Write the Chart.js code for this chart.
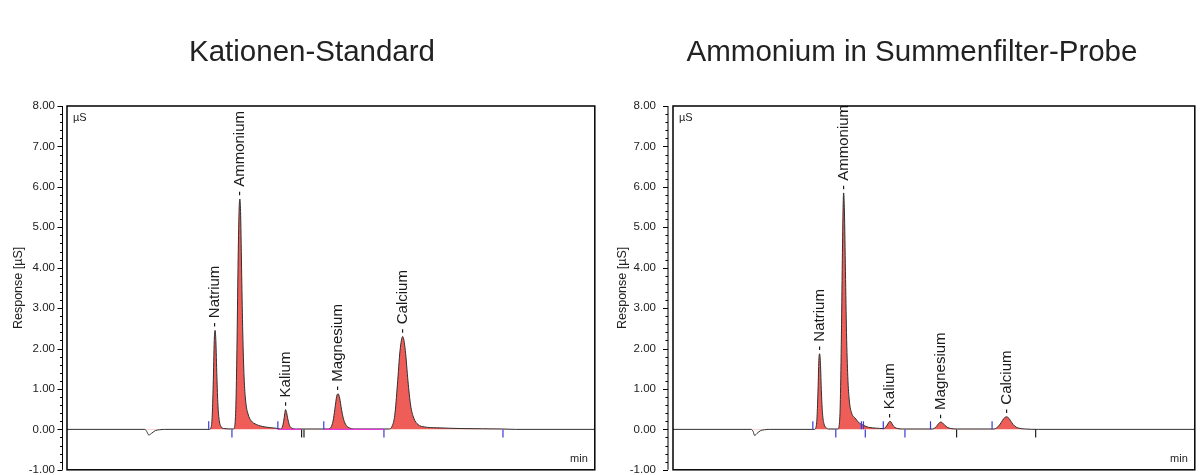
<!DOCTYPE html>
<html>
<head>
<meta charset="utf-8">
<script src="https://cdn.jsdelivr.net/npm/chart.js@4.4.0/dist/chart.umd.min.js"></script>
<style>
html, body { margin: 0; padding: 0; background: #fff; overflow: hidden; }
#wrap { position: relative; width: 1200px; height: 475px; }
.pane { position: absolute; top: 0; width: 600px; height: 475px; }
.title { position: absolute; top: 36px; width: 624px; text-align: center;
  font: 29.5px/30px "Liberation Sans", Arial, sans-serif; color: #222; }
</style>
</head>
<body>
<div id="wrap">
  <div class="pane" style="left:0"><canvas id="stdChart" width="600" height="475"></canvas></div>
  <div class="pane" style="left:600px"><canvas id="probeChart" width="600" height="475"></canvas></div>
  <div class="title" style="left:0">Kationen-Standard</div>
  <div class="title" style="left:600px">Ammonium in Summenfilter-Probe</div>
</div>
<script>
// axes
const timeMin = 0, timeMax = 20;
const respMin = -1, respMax = 8;
const respStep = 1;
const respMinorStep = 0.2;

// Kationen-Standard (min, µS)
const stdTime = [0, 2.95, 3.02, 3.1, 3.2, 3.35, 3.5, 3.7,
  5.40, 5.46, 5.50, 5.54, 5.58, 5.61, 5.64, 5.68, 5.72, 5.77, 5.84, 5.95,
  6.30, 6.36, 6.40, 6.44, 6.48, 6.52, 6.55, 6.58, 6.62, 6.66, 6.71, 6.77, 6.86, 6.97, 7.18, 7.5, 7.9,
  8.1, 8.16, 8.21, 8.25, 8.28, 8.32, 8.37, 8.43, 8.52, 8.7,
  9.9, 10.0, 10.08, 10.15, 10.22, 10.27, 10.33, 10.40, 10.48, 10.58, 10.72, 10.95,
  12.2, 12.32, 12.42, 12.52, 12.62, 12.72, 12.82, 12.92, 13.02, 13.14, 13.3, 13.55, 14.0, 15.0, 16.5, 17, 20];
const stdSignal = [0, 0, -0.05, -0.14, -0.1, -0.03, -0.01, 0,
  0, 0.05, 0.3, 1.1, 2.2, 2.45, 2.2, 1.3, 0.6, 0.22, 0.07, 0.02,
  0.01, 0.1, 0.6, 2.0, 4.0, 5.4, 5.7, 5.3, 3.8, 2.4, 1.3, 0.7, 0.38, 0.22, 0.12, 0.06, 0.03,
  0.01, 0.06, 0.2, 0.38, 0.49, 0.42, 0.25, 0.1, 0.03, 0.01,
  0.01, 0.05, 0.2, 0.5, 0.82, 0.88, 0.78, 0.5, 0.25, 0.1, 0.03, 0.01,
  0.01, 0.08, 0.35, 1.1, 1.95, 2.3, 1.95, 1.2, 0.6, 0.28, 0.12, 0.06, 0.04, 0.02, 0.01, 0, 0];
const stdPeakNames = ["Natrium", "Ammonium", "Kalium", "Magnesium", "Calcium"];
const stdPeakTimes = [5.61, 6.55, 8.28, 10.27, 12.72];
const stdPeakHeights = [2.45, 5.7, 0.49, 0.88, 2.3];
const stdMarkTimes = [5.37, 6.25, 7.99, 9.73, 12.01, 16.52];
const stdMarkSides = [1, -1, 1, 1, -1, -1];
const stdEventTimes = [8.89, 8.98];
const stdBaseFrom = [7.99, 9.73];
const stdBaseTo = [8.89, 12.01];

// Ammonium in Summenfilter-Probe (min, µS)
const probeTime = [0, 3.0, 3.07, 3.13, 3.22, 3.36, 3.5, 3.7,
  5.42, 5.48, 5.52, 5.56, 5.59, 5.62, 5.65, 5.69, 5.73, 5.79, 5.87, 5.98,
  6.32, 6.37, 6.41, 6.45, 6.49, 6.52, 6.54, 6.57, 6.61, 6.65, 6.70, 6.76, 6.85, 6.98, 7.15, 7.3, 7.5, 7.8,
  8.05, 8.15, 8.23, 8.29, 8.32, 8.36, 8.42, 8.50, 8.62, 8.8,
  9.95, 10.05, 10.14, 10.22, 10.27, 10.33, 10.42, 10.52, 10.65, 10.9,
  12.3, 12.45, 12.58, 12.68, 12.78, 12.88, 12.98, 13.1, 13.25, 13.5, 14, 20];
const probeSignal = [0, 0, -0.05, -0.15, -0.1, -0.03, -0.01, 0,
  0, 0.05, 0.3, 1.0, 1.7, 1.87, 1.65, 0.9, 0.4, 0.13, 0.04, 0.01,
  0.01, 0.1, 0.6, 2.1, 4.2, 5.5, 5.85, 5.4, 3.9, 2.4, 1.3, 0.7, 0.4, 0.28, 0.15, 0.1, 0.05, 0.03,
  0.02, 0.05, 0.13, 0.19, 0.2, 0.18, 0.11, 0.05, 0.02, 0.01,
  0.01, 0.04, 0.11, 0.17, 0.18, 0.16, 0.1, 0.05, 0.02, 0.01,
  0.01, 0.06, 0.17, 0.27, 0.31, 0.27, 0.17, 0.08, 0.03, 0.01, 0, 0];
const probePeakNames = ["Natrium", "Ammonium", "Kalium", "Magnesium", "Calcium"];
const probePeakTimes = [5.62, 6.54, 8.32, 10.27, 12.78];
const probePeakHeights = [1.87, 5.85, 0.2, 0.18, 0.31];
const probeMarkTimes = [5.36, 6.24, 7.22, 7.30, 7.37, 8.06, 8.89, 9.87, 12.23];
const probeMarkSides = [1, -1, 1, 1, -1, 1, -1, 1, 1];
const probeEventTimes = [10.87, 13.9];
const probeBaseFrom = [];
const probeBaseTo = [];

const FONT = '"Liberation Sans", Arial, sans-serif';

// frame, axis line with minor ticks, peak names, unit texts
const chromDecor = {
    id: "chromDecor",
    afterDatasetsDraw(chart, args, opts) {
        const {ctx, scales: {x, y}} = chart;
        ctx.save();
        ctx.fillStyle = "#1a1a1a";
        ctx.font = "15px " + FONT;
        ctx.textAlign = "left";
        ctx.textBaseline = "middle";
        opts.names.forEach((name, i) => {
            ctx.save();
            ctx.translate(x.getPixelForValue(opts.times[i]), y.getPixelForValue(opts.heights[i]) - 3);
            ctx.rotate(-Math.PI / 2);
            ctx.fillText("- " + name, 0, 0);
            ctx.restore();
        });
        ctx.restore();
    },
    afterDraw(chart, args, opts) {
        const {ctx, chartArea: a, scales: {y}} = chart;
        ctx.save();
        ctx.strokeStyle = "#000";
        ctx.lineWidth = 1.5;
        ctx.strokeRect(a.left, a.top, a.right - a.left, a.bottom - a.top);

        const ax = a.left - opts.axisGap;
        ctx.lineWidth = 1;
        ctx.beginPath();
        ctx.moveTo(ax, a.top);
        ctx.lineTo(ax, a.bottom);
        for (let v = respMin; v <= respMax + 1e-6; v += respMinorStep) {
            const py = Math.round(y.getPixelForValue(v)) + 0.5;
            const major = Math.abs(v - Math.round(v)) < 1e-6;
            ctx.moveTo(ax - (major ? 5 : 2.5), py);
            ctx.lineTo(ax, py);
        }
        ctx.stroke();

        ctx.fillStyle = "#222";
        ctx.font = "11px " + FONT;
        ctx.textBaseline = "middle";
        ctx.textAlign = "left";
        ctx.fillText("µS", a.left + 6, a.top + 12);
        ctx.textAlign = "right";
        ctx.fillText("min", a.right - 7, a.bottom - 11);
        ctx.restore();
    }
};

function makeChart(id, t, s, names, pTimes, pHeights, mTimes, mSides, evTimes, bFrom, bTo, axisWidth, padRight, axisGap, titlePad, labelPad) {
    const trace = t.map((v, i) => ({x: v, y: s[i]}));
    const marks = mTimes.map((v, i) => ({x: v, y: 0.1 * mSides[i]}));
    const events = evTimes.map(v => ({x: v, y: -0.1}));
    const base = [];
    bFrom.forEach((v, i) => {
        base.push({x: v, y: 0}, {x: bTo[i], y: 0}, {x: bTo[i], y: null});
    });

    return new Chart(document.getElementById(id).getContext("2d"), {
        type: "line",
        data: {
            datasets: [
                {
                    data: trace,
                    borderColor: "#303030",
                    borderWidth: 1,
                    pointRadius: 0,
                    cubicInterpolationMode: "monotone",
                    fill: {target: "origin", above: "#ef5d59", below: "rgba(0,0,0,0)"},
                    order: 3
                },
                {
                    data: base,
                    borderColor: "#e83ad8",
                    borderWidth: 1.2,
                    pointRadius: 0,
                    spanGaps: false,
                    fill: false,
                    order: 2
                },
                {
                    data: marks,
                    showLine: false,
                    pointStyle: "line",
                    rotation: 90,
                    pointRadius: 4,
                    borderWidth: 1.2,
                    borderColor: "#3a3ad6",
                    order: 1
                },
                {
                    data: events,
                    showLine: false,
                    pointStyle: "line",
                    rotation: 90,
                    pointRadius: 4,
                    borderWidth: 1.2,
                    borderColor: "#222",
                    order: 1
                }
            ]
        },
        options: {
            responsive: false,
            animation: false,
            layout: {padding: {top: 106, bottom: 3, left: 0, right: padRight}},
            plugins: {
                legend: {display: false},
                tooltip: {enabled: false},
                chromDecor: {names: names, times: pTimes, heights: pHeights, axisGap: axisGap}
            },
            scales: {
                x: {type: "linear", min: timeMin, max: timeMax, display: false},
                y: {
                    min: respMin,
                    max: respMax,
                    afterFit: scale => {
                        scale.width = axisWidth;
                        scale.paddingTop = 0;
                        scale.paddingBottom = 0;
                    },
                    grid: {display: false, drawTicks: false},
                    border: {display: false},
                    ticks: {
                        stepSize: respStep,
                        padding: labelPad,
                        color: "#222",
                        font: {family: FONT, size: 11.5},
                        callback: v => v.toFixed(2)
                    },
                    title: {
                        display: true,
                        text: "Response [µS]",
                        color: "#222",
                        font: {family: FONT, size: 12.5},
                        padding: {top: titlePad, bottom: 0}
                    }
                }
            }
        },
        plugins: [chromDecor]
    });
}

makeChart("stdChart", stdTime, stdSignal, stdPeakNames, stdPeakTimes, stdPeakHeights,
    stdMarkTimes, stdMarkSides, stdEventTimes, stdBaseFrom, stdBaseTo, 67, 5, 4.5, 11.5, 12);
makeChart("probeChart", probeTime, probeSignal, probePeakNames, probePeakTimes, probePeakHeights,
    probeMarkTimes, probeMarkSides, probeEventTimes, probeBaseFrom, probeBaseTo, 73, 1, 5, 15, 17);
</script>
</body>
</html>
